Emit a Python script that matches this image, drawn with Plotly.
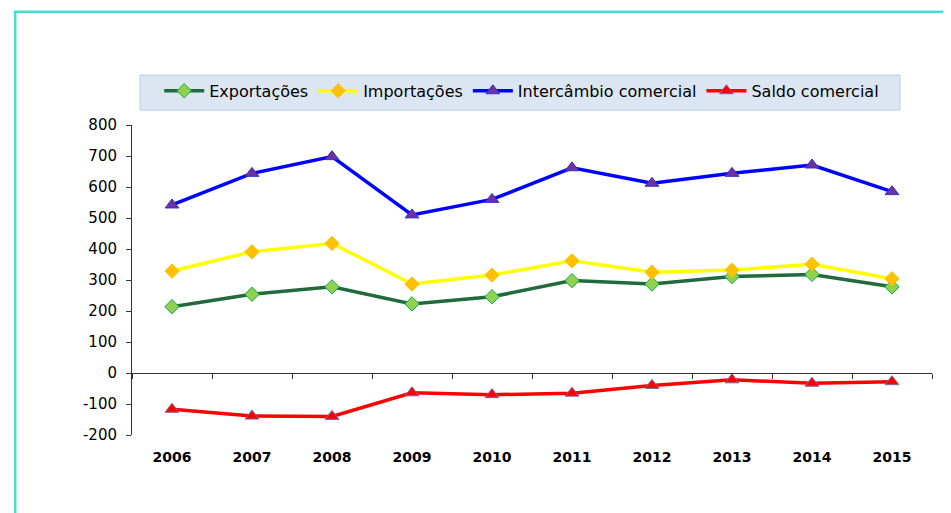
import plotly.graph_objects as go

years = ["2006", "2007", "2008", "2009", "2010", "2011", "2012", "2013", "2014", "2015"]
exportacoes = [214, 254, 278, 223, 246, 298, 287, 311, 318, 278]
importacoes = [329, 391, 418, 287, 316, 362, 325, 332, 351, 304]
intercambio = [542, 644, 698, 510, 560, 662, 612, 644, 671, 585]
saldo = [-117, -139, -140, -64, -70, -65, -40, -22, -33, -28]
y_ticks = [800, 700, 600, 500, 400, 300, 200, 100, 0, -100, -200]
y_tick_text = ["800", "700", "600", "500", "400", "300", "200", "100", "0", "-100", "-200"]

xs = list(range(len(years)))
FONT = "DejaVu Sans"

fig = go.Figure()
fig.add_trace(go.Scatter(x=xs, y=exportacoes, name="Exportações", mode="lines+markers",
                         line=dict(color="#206a3c", width=3.5),
                         marker=dict(symbol="diamond", size=11, color="#92d050",
                                     line=dict(color="#00b050", width=1))))
fig.add_trace(go.Scatter(x=xs, y=importacoes, name="Importações", mode="lines+markers",
                         line=dict(color="#ffff00", width=3.5),
                         marker=dict(symbol="diamond", size=11, color="#ffc000",
                                     line=dict(color="#ffc000", width=1))))
fig.add_trace(go.Scatter(x=xs, y=intercambio, name="Intercâmbio comercial", mode="lines+markers",
                         line=dict(color="#0000ff", width=3.5),
                         marker=dict(symbol="triangle-up", size=12, color="#7030a0",
                                     line=dict(color="#3333cc", width=1))))
fig.add_trace(go.Scatter(x=xs, y=saldo, name="Saldo comercial", mode="lines+markers",
                         line=dict(color="#ff0000", width=3.5),
                         marker=dict(symbol="triangle-up", size=12, color="#ff0000",
                                     line=dict(color="#8064a2", width=1))))
# invisible trace to carry the zero-line category axis
fig.add_trace(go.Scatter(x=xs, y=[0] * len(xs), xaxis="x2", mode="markers",
                         marker=dict(opacity=0), showlegend=False, hoverinfo="skip"))

fig.update_layout(
    width=943, height=505,
    margin=dict(l=124, r=19, t=117, b=78),
    paper_bgcolor="white", plot_bgcolor="white",
    font=dict(family=FONT, size=15, color="black"),
    showlegend=True,
    legend=dict(orientation="h", x=0.034, y=1.165, xanchor="left", yanchor="top",
                bgcolor="rgba(0,0,0,0)", font=dict(family=FONT, size=16, color="black"),
                itemwidth=40, tracegroupgap=0),
    xaxis=dict(range=[-0.5, 9.5], tickvals=xs, ticktext=years, showline=False,
               showgrid=False, zeroline=False, ticks="", ticklabelstandoff=12,
               tickfont=dict(family=FONT, size=14, color="black", weight="bold")),
    xaxis2=dict(range=[-0.5, 9.5], overlaying="x", anchor="free", position=0.2,
                tickvals=[i - 0.5 for i in range(len(years) + 1)], showticklabels=False,
                ticks="outside", ticklen=5, tickcolor="#333", showline=True,
                linecolor="#333", linewidth=1, showgrid=False, zeroline=False),
    yaxis=dict(range=[-200, 800], tickvals=y_ticks, ticktext=y_tick_text,
               showline=True, linecolor="#333", linewidth=1, ticks="outside",
               ticklen=5, tickcolor="#333", showgrid=False, zeroline=False,
               tickfont=dict(family=FONT, size=15, color="black"), ticklabelstandoff=6),
    shapes=[
        dict(type="rect", xref="paper", yref="paper", x0=0.01, x1=0.96, y0=1.048, y1=1.161,
             fillcolor="#dce6f2", line=dict(color="#b9cde5", width=1), layer="below"),
        dict(type="rect", xref="paper", yref="paper", x0=-0.146, x1=1.1, y0=-0.3, y1=1.365,
             fillcolor="rgba(0,0,0,0)", line=dict(color="#40e0d0", width=2.5)),
    ],
)

fig.write_html("out.html")
